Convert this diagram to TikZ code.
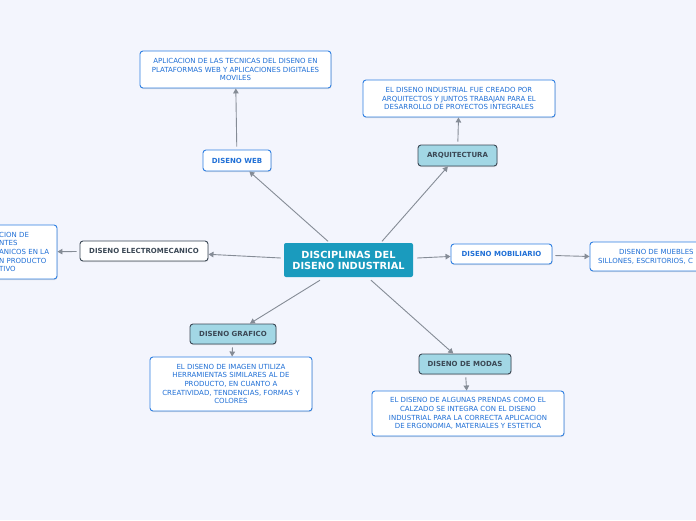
\documentclass[tikz,border=0pt]{standalone}
\usepackage{fontspec}
\setmainfont{DejaVu Sans}
\usetikzlibrary{arrows.meta,shadows,calc}
\definecolor{bg}{HTML}{F3F5FD}
\definecolor{teal}{HTML}{1A9BBE}
\definecolor{lb}{HTML}{A2D7E5}
\definecolor{dk}{HTML}{3B4855}
\definecolor{bl}{HTML}{2E7FE2}
\definecolor{blt}{HTML}{1F6FD6}
\definecolor{ln}{HTML}{858C96}
\tikzset{
  txtbox/.style={draw=bl, fill=white, text=blt, rounded corners=3pt, line width=0.9pt, align=center,
    font=\fontsize{7}{8.7}\selectfont, inner sep=1pt, drop shadow={shadow xshift=0.5pt, shadow yshift=-1pt, opacity=0.25}},
  wlab/.style={draw=bl, fill=white, text=blt, rounded corners=3pt, line width=0.9pt,
    font=\fontsize{7}{8}\selectfont\bfseries, inner sep=1pt, drop shadow={shadow xshift=0.5pt, shadow yshift=-1pt, opacity=0.25}},
  dlab/.style={draw=dk, fill=white, text=dk, rounded corners=3pt, line width=0.9pt,
    font=\fontsize{7}{8}\selectfont\bfseries, inner sep=1pt, drop shadow={shadow xshift=0.5pt, shadow yshift=-1pt, opacity=0.25}},
  llab/.style={draw=dk, fill=lb, text=dk, rounded corners=3pt, line width=0.9pt,
    font=\fontsize{7}{8}\selectfont\bfseries, inner sep=1pt, drop shadow={shadow xshift=0.5pt, shadow yshift=-1pt, opacity=0.25}},
  conn/.style={draw=ln, line width=0.9pt, -{Triangle[length=5pt,width=5.5pt]}, shorten <=3pt},
  cconn/.style={conn, shorten <=0pt},
  frag/.style={text=blt, font=\fontsize{7}{8.7}\selectfont, inner sep=0pt}
}
\begin{document}
\begin{tikzpicture}[x=1pt,y=-1pt]
\useasboundingbox (0,0) rectangle (696,520);
\clip (0,0) rectangle (696,520);
\fill[bg] (0,0) rectangle (696,520);

\node[fill=teal, text=white, rounded corners=2pt, minimum width=129pt, minimum height=34pt, align=center,
  font=\fontsize{9.8}{13}\selectfont\bfseries, inner sep=1pt] (c) at (348.5,260) {\raisebox{-1.5pt}{\shortstack{DISCIPLINAS DEL\\[0.5pt]DISENO INDUSTRIAL}}};

\node[wlab, minimum width=68pt, minimum height=21pt] (web) at (237,160.5) {DISENO WEB};
\node[txtbox, minimum width=191pt, minimum height=37pt] (webt) at (235.5,69.5)
  {APLICACION DE LAS TECNICAS DEL DISENO EN\\PLATAFORMAS WEB Y APLICACIONES DIGITALES\\MOVILES};

\node[llab, minimum width=79pt, minimum height=21pt] (arq) at (457.5,155.5) {ARQUITECTURA};
\node[txtbox, minimum width=192pt, minimum height=37pt] (arqt) at (459,98.5)
  {EL DISENO INDUSTRIAL FUE CREADO POR\\ARQUITECTOS Y JUNTOS TRABAJAN PARA EL\\DESARROLLO DE PROYECTOS INTEGRALES};

\node[dlab, minimum width=128pt, minimum height=20pt] (ele) at (144,251) {DISENO ELECTROMECANICO};
\node[txtbox, minimum width=90pt, minimum height=54pt] (elet) at (12,252) {};
\node[frag, anchor=west, align=left] (eletx) at (-1,252)
  {CION DE\\NTES\\ANICOS EN LA\\N PRODUCTO\\TIVO};

\node[wlab, minimum width=101pt, minimum height=20pt] (mob) at (501.5,254) {DISENO MOBILIARIO};
\node[txtbox, minimum width=130pt, minimum height=29pt] (mobt) at (655,256.5) {};
\node[frag, anchor=base west] (mob1) at (619,254.5) {DISENO DE MUEBLES};
\node[frag, anchor=base west] (mob2) at (598,263.5) {SILLONES, ESCRITORIOS, C};

\node[llab, minimum width=86pt, minimum height=20pt] (gra) at (233,334) {DISENO GRAFICO};
\node[txtbox, minimum width=162pt, minimum height=54pt] (grat) at (231,384)
  {EL DISENO DE IMAGEN UTILIZA\\HERRAMIENTAS SIMILARES AL DE\\PRODUCTO, EN CUANTO A\\CREATIVIDAD, TENDENCIAS, FORMAS Y\\COLORES};

\node[llab, minimum width=92pt, minimum height=20pt] (mod) at (465,364) {DISENO DE MODAS};
\node[txtbox, minimum width=192pt, minimum height=45pt] (modt) at (468,413.5)
  {EL DISENO DE ALGUNAS PRENDAS COMO EL\\CALZADO SE INTEGRA CON EL DISENO\\INDUSTRIAL PARA LA CORRECTA APLICACION\\DE ERGONOMIA, MATERIALES Y ESTETICA};

\coordinate (sweb) at ($(c.north)+(-20.5,-1.5)$);
\coordinate (sarq) at ($(c.north)+(33.5,-1.5)$);
\coordinate (sele) at ($(c.west)+(-3,-2)$);
\coordinate (smob) at ($(c.east)+(4,-2)$);
\coordinate (sgra) at ($(c.south)+(-28.5,3)$);
\coordinate (smod) at ($(c.south)+(22.5,3)$);

\draw[cconn] (sweb) -- (web);
\draw[conn] (web) -- (webt);
\draw[cconn] (sarq) -- (arq);
\draw[conn] (arq) -- (arqt);
\draw[cconn] (sele) -- (ele);
\draw[conn] (ele) -- (elet);
\draw[cconn] (smob) -- (mob);
\draw[conn] (mob) -- (mobt.west);
\draw[cconn] (sgra) -- (gra);
\draw[conn] (gra) -- (grat);
\draw[cconn] (smod) -- (mod);
\draw[conn] (mod) -- (modt);
\end{tikzpicture}
\end{document}
